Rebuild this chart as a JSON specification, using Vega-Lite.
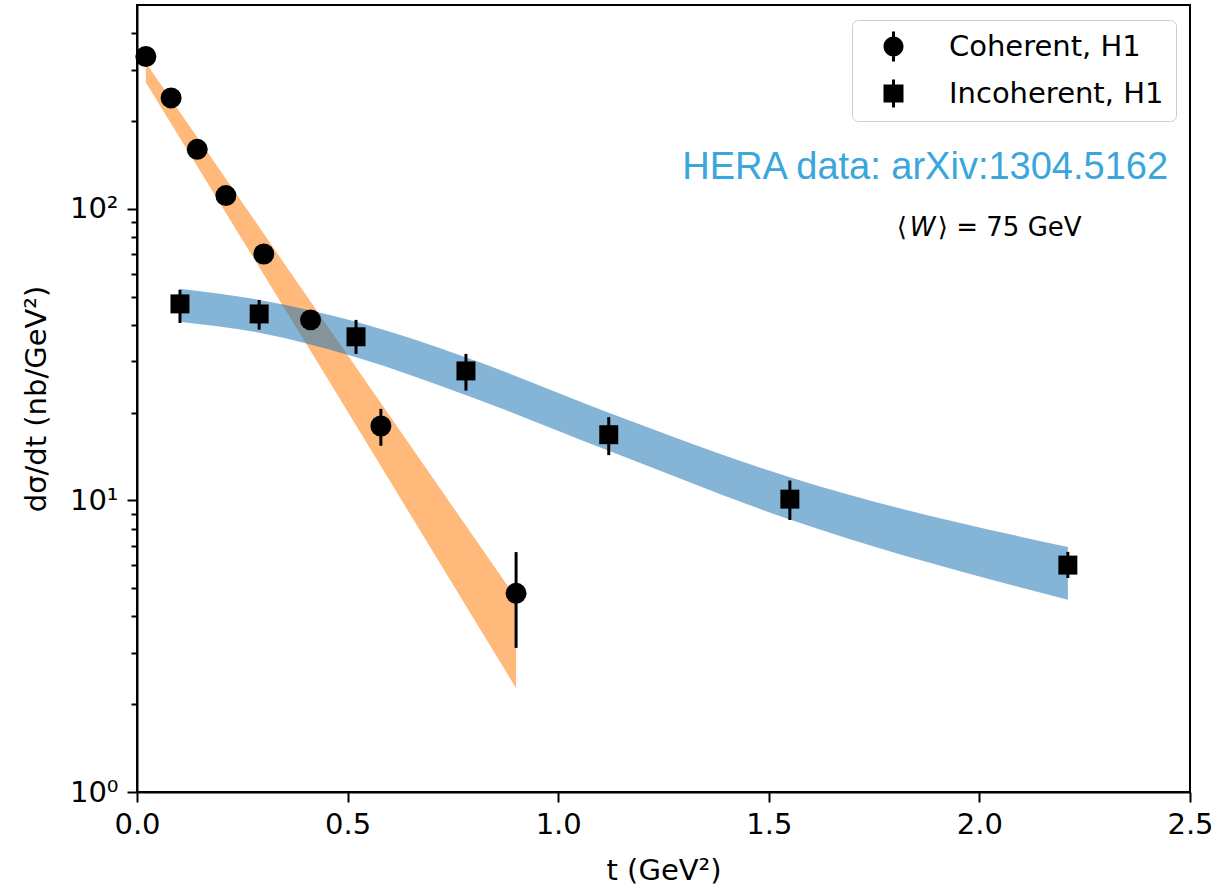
{
  "$schema": "https://vega.github.io/schema/vega-lite/v6.json",
  "width": 1053,
  "height": 787,
  "autosize": {"type": "none"},
  "padding": {"left": 137, "top": 5, "right": 41, "bottom": 97},
  "background": "white",
  "config": {
    "view": {"stroke": "black", "strokeWidth": 2},
    "font": "DejaVu Sans",
    "axis": {
      "domainColor": "black", "domainWidth": 2, "tickColor": "black", "tickWidth": 2,
      "labelColor": "black", "titleColor": "black", "labelFont": "DejaVu Sans", "titleFont": "DejaVu Sans",
      "labelFontSize": 29, "titleFontSize": 29, "titleFontWeight": "normal", "grid": false,
      "labelFlush": false, "labelOverlap": false
    }
  },
  "datasets": {
    "coh_band": [
      {"t": 0.021, "upper": 317, "lower": 271},
      {"t": 0.45, "upper": 40.0, "lower": 26.5},
      {"t": 0.90, "upper": 4.63, "lower": 2.27}
    ],
    "inc_band": [
      {"t": 0.10, "upper": 53.2, "lower": 41.0},
      {"t": 0.29, "upper": 48.7, "lower": 37.6},
      {"t": 0.52, "upper": 41.0, "lower": 31.0},
      {"t": 0.78, "upper": 31.0, "lower": 23.0},
      {"t": 1.12, "upper": 20.0, "lower": 14.8},
      {"t": 1.55, "upper": 12.0, "lower": 8.6},
      {"t": 2.21, "upper": 6.92, "lower": 4.56}
    ],
    "points": [
      {"series": "Coherent, H1", "t": 0.021, "v": 333, "lo": 318, "hi": 348},
      {"series": "Coherent, H1", "t": 0.081, "v": 240, "lo": 229, "hi": 252},
      {"series": "Coherent, H1", "t": 0.143, "v": 160, "lo": 152, "hi": 168},
      {"series": "Coherent, H1", "t": 0.211, "v": 111, "lo": 105, "hi": 117},
      {"series": "Coherent, H1", "t": 0.301, "v": 70, "lo": 66, "hi": 74},
      {"series": "Coherent, H1", "t": 0.412, "v": 41.6, "lo": 39.0, "hi": 44.5},
      {"series": "Coherent, H1", "t": 0.579, "v": 18.0, "lo": 15.4, "hi": 20.6},
      {"series": "Coherent, H1", "t": 0.90, "v": 4.8, "lo": 3.12, "hi": 6.65},
      {"series": "Incoherent, H1", "t": 0.102, "v": 47.2, "lo": 40.6, "hi": 52.7},
      {"series": "Incoherent, H1", "t": 0.290, "v": 43.6, "lo": 38.5, "hi": 48.7},
      {"series": "Incoherent, H1", "t": 0.52, "v": 36.4, "lo": 31.8, "hi": 41.6},
      {"series": "Incoherent, H1", "t": 0.781, "v": 27.8, "lo": 23.8, "hi": 31.8},
      {"series": "Incoherent, H1", "t": 1.12, "v": 16.8, "lo": 14.3, "hi": 19.3},
      {"series": "Incoherent, H1", "t": 1.55, "v": 10.1, "lo": 8.57, "hi": 11.7},
      {"series": "Incoherent, H1", "t": 2.21, "v": 6.0, "lo": 5.42, "hi": 6.66}
    ],
    "wlabel": [
      {"part": "⟨", "dx": 0, "style": "normal"},
      {"part": "W", "dx": 13, "style": "italic"},
      {"part": "⟩  =  75 GeV", "dx": 41, "style": "normal"}
    ]
  },
  "layer": [
    {
      "data": {"name": "coh_band"},
      "mark": {"type": "area", "color": "#ff7f0e", "opacity": 0.55},
      "encoding": {
        "x": {"field": "t", "type": "quantitative", "scale": {"domain": [0, 2.5], "nice": false, "zero": false},
          "axis": {"title": "t (GeV²)", "values": [0, 0.5, 1, 1.5, 2, 2.5], "format": ".1f", "tickSize": 10, "labelPadding": 8, "titlePadding": 17}},
        "y": {"field": "upper", "type": "quantitative", "scale": {"type": "log", "domain": [1, 500], "nice": false},
          "axis": {"title": "dσ/dt (nb/GeV²)",
            "values": [1, 2, 3, 4, 5, 6, 7, 8, 9, 10, 20, 30, 40, 50, 60, 70, 80, 90, 100, 200, 300, 400],
            "labelExpr": "datum.value == 1 ? '10⁰' : datum.value == 10 ? '10¹' : datum.value == 100 ? '10²' : ''",
            "tickSize": {"condition": {"test": "datum.value == 1 || datum.value == 10 || datum.value == 100", "value": 10}, "value": 6},
            "labelPadding": 9, "titlePadding": 18}},
        "y2": {"field": "lower"}
      }
    },
    {
      "data": {"name": "inc_band"},
      "mark": {"type": "area", "color": "#1f77b4", "opacity": 0.55, "interpolate": "monotone"},
      "encoding": {
        "x": {"field": "t", "type": "quantitative"},
        "y": {"field": "upper", "type": "quantitative"},
        "y2": {"field": "lower"}
      }
    },
    {
      "data": {"name": "points"},
      "mark": {"type": "rule", "color": "black", "strokeWidth": 3},
      "encoding": {
        "x": {"field": "t", "type": "quantitative"},
        "y": {"field": "lo", "type": "quantitative"},
        "y2": {"field": "hi"}
      }
    },
    {
      "data": {"name": "points"},
      "mark": {"type": "point", "filled": true, "color": "black", "opacity": 0},
      "encoding": {
        "x": {"field": "t", "type": "quantitative"},
        "y": {"field": "v", "type": "quantitative"},
        "shape": {"field": "series", "type": "nominal",
          "scale": {"domain": ["Coherent, H1", "Incoherent, H1"],
            "range": ["M-1,0A1,1,0,1,1,1,0A1,1,0,1,1,-1,0Z M-0.15,-1.5L0.15,-1.5L0.15,1.5L-0.15,1.5Z",
                      "M-1,-0.9L1,-0.9L1,0.9L-1,0.9Z M-0.15,-1.4L0.15,-1.4L0.15,1.4L-0.15,1.4Z"]},
          "legend": {"title": null, "orient": "none", "legendX": 715, "legendY": 15,
            "labelFontSize": 29, "labelFont": "DejaVu Sans", "labelColor": "black", "labelLimit": 400,
            "symbolSize": 400, "symbolFillColor": "black", "symbolStrokeWidth": 0, "symbolOpacity": 1,
            "padding": 12, "rowPadding": 17, "symbolOffset": 15, "labelOffset": 41,
            "strokeColor": "#cccccc", "fillColor": "white", "cornerRadius": 6}}
      }
    },
    {
      "data": {"name": "points"},
      "mark": {"type": "point", "filled": true, "color": "black", "opacity": 1},
      "encoding": {
        "x": {"field": "t", "type": "quantitative"},
        "y": {"field": "v", "type": "quantitative"},
        "size": {"condition": {"test": "datum.series == 'Coherent, H1'", "value": 440}, "value": 360},
        "shape": {"condition": {"test": "datum.series == 'Coherent, H1'", "value": "circle"}, "value": "square"}
      }
    },
    {
      "data": {"values": [{"label": "HERA data: arXiv:1304.5162"}]},
      "mark": {"type": "text", "font": "Liberation Sans", "fontSize": 38, "color": "#3aa6dc", "align": "right", "baseline": "middle"},
      "encoding": {
        "x": {"datum": 2.448},
        "y": {"datum": 138},
        "text": {"field": "label"}
      }
    },
    {
      "data": {"name": "wlabel"},
      "transform": [{"filter": "datum.style == 'normal' && datum.dx == 0"}],
      "mark": {"type": "text", "font": "DejaVu Sans", "fontSize": 26, "color": "black", "align": "left", "baseline": "middle"},
      "encoding": {"x": {"datum": 1.804}, "y": {"datum": 86}, "text": {"field": "part"}}
    },
    {
      "data": {"name": "wlabel"},
      "transform": [{"filter": "datum.style == 'italic'"}],
      "mark": {"type": "text", "font": "DejaVu Sans", "fontSize": 26, "fontStyle": "italic", "color": "black", "align": "left", "baseline": "middle", "dx": 13},
      "encoding": {"x": {"datum": 1.804}, "y": {"datum": 86}, "text": {"field": "part"}}
    },
    {
      "data": {"name": "wlabel"},
      "transform": [{"filter": "datum.style == 'normal' && datum.dx > 0"}],
      "mark": {"type": "text", "font": "DejaVu Sans", "fontSize": 26, "color": "black", "align": "left", "baseline": "middle", "dx": 41},
      "encoding": {"x": {"datum": 1.804}, "y": {"datum": 86}, "text": {"field": "part"}}
    }
  ]
}
